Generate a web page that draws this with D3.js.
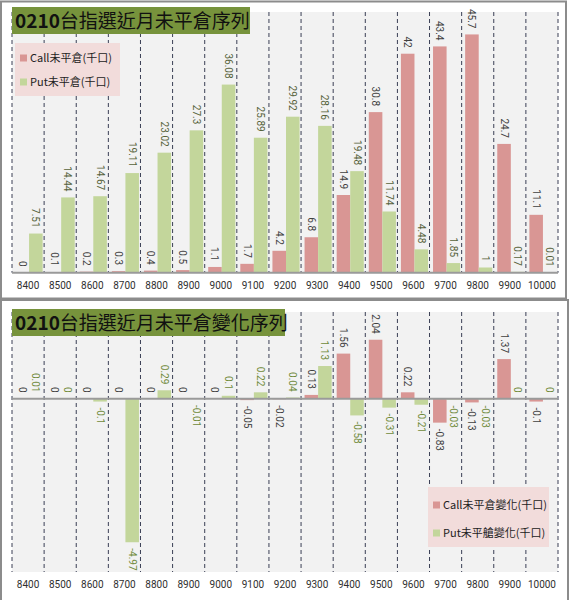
<!DOCTYPE html>
<html><head><meta charset="utf-8">
<script src="https://cdn.jsdelivr.net/npm/d3@7"></script>
<style>
html,body{margin:0;padding:0;background:#fff;}
svg{display:block;}
</style>
</head><body>
<svg id="c" width="569" height="600"></svg>
<script>
const strikes = ["8400","8500","8600","8700","8800","8900","9000","9100","9200","9300","9400","9500","9600","9700","9800","9900","10000"];
const callOI = [0,0.1,0.2,0.3,0.4,0.5,1.1,1.7,4.2,6.8,14.9,30.8,42,43.4,45.7,24.7,11.1];
const putOI = [7.51,14.44,14.67,19.11,23.02,27.3,36.08,25.89,29.92,28.16,19.48,11.74,4.48,1.85,1,0.17,0.01];
const callChg = [0,0,0,0,0,0,0,-0.05,-0.02,0.13,1.56,2.04,0.22,-0.83,-0.13,1.37,-0.1];
const putChg = [0.01,0,-0.1,-4.97,0.29,-0.01,0.1,0.22,0.04,1.13,-0.58,-0.31,-0.21,-0.03,-0.03,0,0];
const titleTop = ["0210","台指選近月未平倉序列"];
const titleBottom = ["0210","台指選近月未平倉變化序列"];
const legendTop = ["Call未平倉(千口)","Put未平倉(千口)"];
const legendBottom = ["Call未平倉變化(千口)","Put未平艙變化(千口)"];

const callColor = "#d99694", putColor = "#c3d69b";
const numFont = "Roboto, 'Noto Sans', sans-serif";
const cjkFont = "'Noto Sans CJK TC', 'Noto Sans', sans-serif";

const svg = d3.select("#c");

// panel borders
svg.append("rect").attr("x",1).attr("y",1.5).attr("width",565).attr("height",297)
  .attr("fill","#fff").attr("stroke","#8c8c8c").attr("stroke-width",2);
svg.append("rect").attr("x",1).attr("y",300).attr("width",567).attr("height",302)
  .attr("fill","#fff").attr("stroke","#8c8c8c").attr("stroke-width",2);

const x = d3.scaleBand().domain(strikes).range([12,558]).paddingInner(0).paddingOuter(0);
const inner = d3.scaleBand().domain(["call","put"]).range([3.5, x.bandwidth()-1.5]).padding(0);

function drawChart(cfg){
  const g = svg.append("g");
  const y = d3.scaleLinear().domain(cfg.domain).range([cfg.bottom, cfg.top]);
  // plot bg
  g.append("rect").attr("x",x.range()[0]).attr("y",cfg.top)
    .attr("width",x.range()[1]-x.range()[0]).attr("height",cfg.bottom-cfg.top).attr("fill","#f2f2f2");
  // dashed band separators
  const bounds = strikes.map(s=>x(s)).concat([x.range()[1]]);
  g.selectAll("line.sep").data(bounds).join("line")
    .attr("x1",d=>d).attr("x2",d=>d).attr("y1",cfg.top).attr("y2",cfg.bottom)
    .attr("stroke","#3a3f55").attr("stroke-width",1).attr("stroke-dasharray","4,3");
  const data = [];
  strikes.forEach((s,i)=>{
    data.push({s, k:"call", v:cfg.call[i]});
    data.push({s, k:"put", v:cfg.put[i]});
  });
  const y0 = y(0);
  g.selectAll("rect.bar").data(data).join("rect")
    .attr("x",d=>x(d.s)+inner(d.k)).attr("width",inner.bandwidth())
    .attr("y",d=>Math.min(y(d.v),y0)).attr("height",d=>Math.abs(y(d.v)-y0))
    .attr("fill",d=>d.k==="call"?callColor:putColor);
  // baseline axis
  g.append("line").attr("x1",x.range()[0]).attr("x2",x.range()[1]).attr("y1",y0).attr("y2",y0)
    .attr("stroke","#9a9a9a").attr("stroke-width",2);
  // value labels
  g.selectAll("text.val").data(data).join("text")
    .attr("transform",d=>{
      const cx = x(d.s)+inner(d.k)+inner.bandwidth()/2;
      const yy = d.v>=0 ? y(d.v)-6 : y(d.v)+6;
      return `translate(${cx},${yy}) rotate(90)`;
    })
    .attr("text-anchor",d=>d.v>=0?"end":"start")
    .attr("dy","0.35em")
    .attr("font-family",numFont).attr("font-size",10)
    .attr("fill",d=>d.k==="call"?"#404040":cfg.putLabel)
    .text(d=>d.v);
  // x axis labels
  const ax = g.append("g").attr("transform",`translate(0,${cfg.labelY})`)
    .call(d3.axisBottom(x).tickSize(0).tickPadding(0));
  ax.select(".domain").remove();
  ax.selectAll("text").attr("font-family",numFont).attr("font-size",10).attr("fill","#303030").attr("dy","0.35em").attr("y",0);
  // title
  g.append("rect").attr("x",12).attr("y",cfg.titleY).attr("width",cfg.titleW).attr("height",27).attr("fill","#77933c");
  const t = g.append("text").attr("x",15).attr("y",cfg.titleY+21).attr("font-size",19).attr("fill","#111");
  t.append("tspan").attr("font-family",cjkFont).attr("font-weight","bold").text(cfg.title[0]);
  t.append("tspan").attr("font-family",cjkFont).attr("font-weight","normal").text(cfg.title[1]);
  // legend
  const L = cfg.legend;
  g.append("rect").attr("x",L.x).attr("y",L.y).attr("width",L.w).attr("height",L.h).attr("fill","#f2dcdb");
  L.items.forEach((txt,i)=>{
    const yy = L.y + L.first + i*L.step;
    g.append("rect").attr("x",L.x+5).attr("y",yy-3.5).attr("width",7).attr("height",7)
      .attr("fill",i===0?callColor:putColor);
    g.append("text").attr("x",L.x+15).attr("y",yy).attr("dy","0.35em")
      .attr("font-family",cjkFont).attr("font-size",11).attr("fill","#222").text(txt);
  });
}

drawChart({domain:[0,50], top:12, bottom:272.7, labelY:285, call:callOI, put:putOI,
  putLabel:"#56623a", title:titleTop, titleY:7, titleW:238,
  legend:{x:15,y:43,w:105,h:53,first:15,step:24,items:legendTop}});
drawChart({domain:[-6,3], top:312, bottom:572, labelY:584, call:callChg, put:putChg,
  putLabel:"#6f8a3a", title:titleBottom, titleY:309, titleW:273,
  legend:{x:428,y:487,w:121,h:60,first:18,step:28,items:legendBottom}});
</script>
</body></html>
